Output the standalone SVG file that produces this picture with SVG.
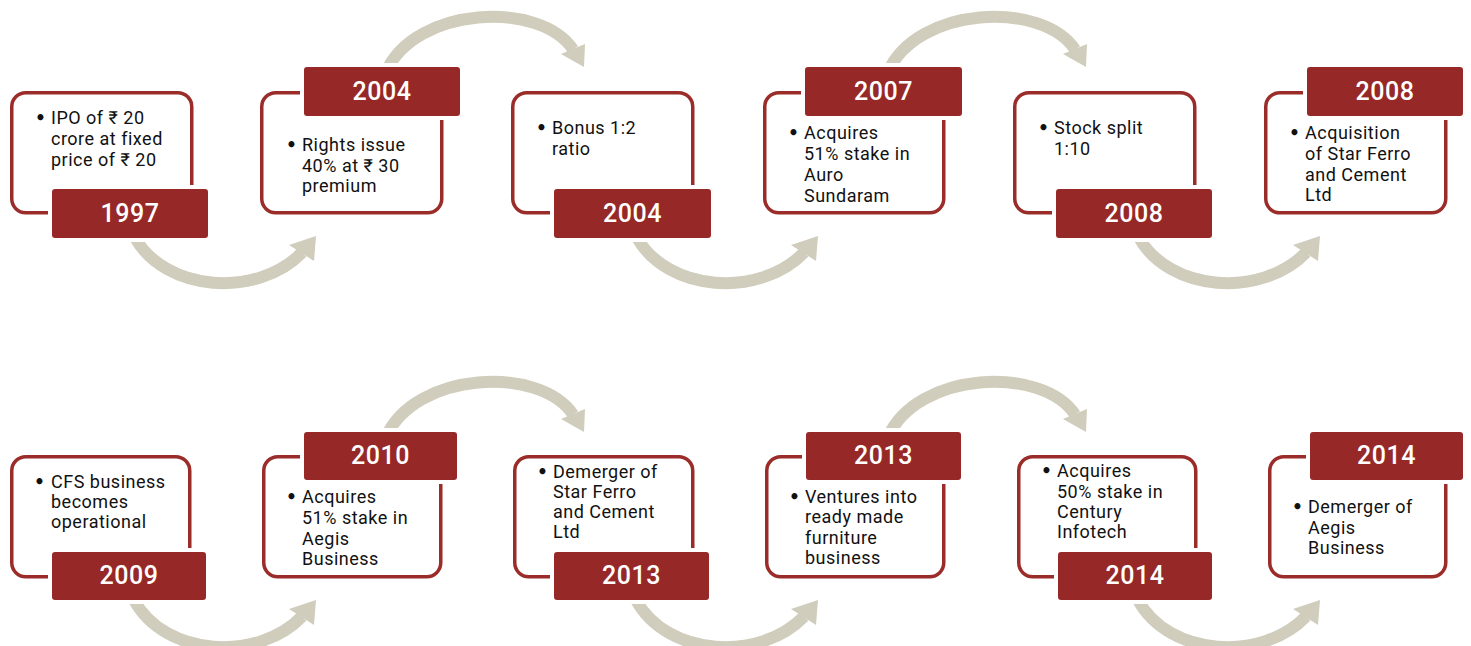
<svg xmlns="http://www.w3.org/2000/svg" xmlns:xlink="http://www.w3.org/1999/xlink" width="1471" height="646" viewBox="0 0 1471 646">
<style>
.box{fill:#ffffff;stroke:#9a2c29;stroke-width:3.5}
.lbl{fill:#962927;stroke:#ffffff;stroke-width:8;paint-order:stroke}
.yr{fill:#ffffff;font-family:Roboto,"Liberation Sans",sans-serif;font-weight:500;font-size:25px;text-anchor:middle;letter-spacing:0.5px}
.tx{fill:#111111;font-family:Roboto,"Liberation Sans","DejaVu Sans",sans-serif;font-size:18px;letter-spacing:0.5px}
.bu{fill:#111111;font-family:"DejaVu Sans",sans-serif;font-size:17px;font-weight:bold}
.arc{fill:none;stroke:#d0cdbc;stroke-width:12}
.hd{fill:#d0cdbc}
</style>
<defs>
<g id="arrowDown">
<path class="arc" d="M 134 236 C 165 293, 258 298, 302 252.5"/>
<polygon class="hd" points="289,245 316,236 314,261"/>
</g>
<g id="arrowUp">
<path class="arc" d="M 386 72 C 415 6, 540 0, 573 49.5"/>
<polygon class="hd" points="561,54 585,44 584,67"/>
</g>
</defs>
<rect width="1471" height="646" fill="#ffffff"/>
<g id="connectors">
<use xlink:href="#arrowDown"/>
<use xlink:href="#arrowDown" transform="translate(502,0)"/>
<use xlink:href="#arrowDown" transform="translate(1004,0)"/>
<use xlink:href="#arrowUp"/>
<use xlink:href="#arrowUp" transform="translate(502,0)"/>
<use xlink:href="#arrowDown" transform="translate(0,364)"/>
<use xlink:href="#arrowDown" transform="translate(502,364)"/>
<use xlink:href="#arrowDown" transform="translate(1004,364)"/>
<use xlink:href="#arrowUp" transform="translate(0,365)"/>
<use xlink:href="#arrowUp" transform="translate(502,365)"/>
</g>
<g id="n1997">
<rect class="box" x="11.75" y="92.75" width="180" height="120" rx="14"/>
<text class="bu" x="35" y="124">•</text>
<text class="tx"><tspan x="51" y="124">IPO of ₹ 20</tspan><tspan x="51" y="145">crore at fixed</tspan><tspan x="51" y="166">price of ₹ 20</tspan></text>
<rect class="lbl" x="52" y="189" width="156" height="49" rx="3"/>
<text class="yr" x="130" y="222">1997</text>
</g>
<g id="n2004a">
<rect class="box" x="261.75" y="92.75" width="180" height="120" rx="14"/>
<text class="bu" x="286" y="151">•</text>
<text class="tx"><tspan x="302" y="151">Rights issue</tspan><tspan x="302" y="172">40% at ₹ 30</tspan><tspan x="302" y="192">premium</tspan></text>
<rect class="lbl" x="304" y="67" width="156" height="49" rx="3"/>
<text class="yr" x="382" y="100">2004</text>
</g>
<g id="n2004b">
<rect class="box" x="512.75" y="92.75" width="180" height="120" rx="14"/>
<text class="bu" x="536" y="134">•</text>
<text class="tx"><tspan x="552" y="134">Bonus 1:2</tspan><tspan x="552" y="155">ratio</tspan></text>
<rect class="lbl" x="554" y="189" width="157" height="49" rx="3"/>
<text class="yr" x="632.5" y="222">2004</text>
</g>
<g id="n2007">
<rect class="box" x="764.75" y="92.75" width="179" height="120" rx="14"/>
<text class="bu" x="788" y="139">•</text>
<text class="tx"><tspan x="804" y="139">Acquires</tspan><tspan x="804" y="160">51% stake in</tspan><tspan x="804" y="181">Auro</tspan><tspan x="804" y="202">Sundaram</tspan></text>
<rect class="lbl" x="805" y="67" width="157" height="49" rx="3"/>
<text class="yr" x="883.5" y="100">2007</text>
</g>
<g id="n2008a">
<rect class="box" x="1014.75" y="92.75" width="180" height="120" rx="14"/>
<text class="bu" x="1038" y="134">•</text>
<text class="tx"><tspan x="1054" y="134">Stock split</tspan><tspan x="1054" y="155">1:10</tspan></text>
<rect class="lbl" x="1056" y="189" width="156" height="49" rx="3"/>
<text class="yr" x="1134" y="222">2008</text>
</g>
<g id="n2008b">
<rect class="box" x="1265.75" y="92.75" width="180" height="120" rx="14"/>
<text class="bu" x="1289" y="139">•</text>
<text class="tx"><tspan x="1305" y="139">Acquisition</tspan><tspan x="1305" y="160">of Star Ferro</tspan><tspan x="1305" y="181">and Cement</tspan><tspan x="1305" y="201">Ltd</tspan></text>
<rect class="lbl" x="1307" y="67" width="156" height="49" rx="3"/>
<text class="yr" x="1385" y="100">2008</text>
</g>
<g id="n2009">
<rect class="box" x="11.75" y="456.75" width="178" height="120" rx="14"/>
<text class="bu" x="34" y="488">•</text>
<text class="tx"><tspan x="51" y="488">CFS business</tspan><tspan x="51" y="508">becomes</tspan><tspan x="51" y="528">operational</tspan></text>
<rect class="lbl" x="52" y="552" width="154" height="48" rx="3"/>
<text class="yr" x="129" y="584">2009</text>
</g>
<g id="n2010">
<rect class="box" x="263.75" y="456.75" width="177" height="120" rx="14"/>
<text class="bu" x="286" y="503">•</text>
<text class="tx"><tspan x="302" y="503">Acquires</tspan><tspan x="302" y="524">51% stake in</tspan><tspan x="302" y="545">Aegis</tspan><tspan x="302" y="565">Business</tspan></text>
<rect class="lbl" x="304" y="432" width="153" height="48" rx="3"/>
<text class="yr" x="380.5" y="464">2010</text>
</g>
<g id="n2013a">
<rect class="box" x="514.75" y="456.75" width="178" height="120" rx="14"/>
<text class="bu" x="537" y="478">•</text>
<text class="tx"><tspan x="553" y="478">Demerger of</tspan><tspan x="553" y="498">Star Ferro</tspan><tspan x="553" y="518">and Cement</tspan><tspan x="553" y="538">Ltd</tspan></text>
<rect class="lbl" x="554" y="552" width="155" height="48" rx="3"/>
<text class="yr" x="631.5" y="584">2013</text>
</g>
<g id="n2013b">
<rect class="box" x="766.75" y="456.75" width="177" height="120" rx="14"/>
<text class="bu" x="789" y="503">•</text>
<text class="tx"><tspan x="805" y="503">Ventures into</tspan><tspan x="805" y="523">ready made</tspan><tspan x="805" y="544">furniture</tspan><tspan x="805" y="564">business</tspan></text>
<rect class="lbl" x="806" y="432" width="155" height="48" rx="3"/>
<text class="yr" x="883.5" y="464">2013</text>
</g>
<g id="n2014a">
<rect class="box" x="1018.75" y="456.75" width="177" height="120" rx="14"/>
<text class="bu" x="1041" y="477">•</text>
<text class="tx"><tspan x="1057" y="477">Acquires</tspan><tspan x="1057" y="498">50% stake in</tspan><tspan x="1057" y="518">Century</tspan><tspan x="1057" y="538">Infotech</tspan></text>
<rect class="lbl" x="1058" y="552" width="154" height="48" rx="3"/>
<text class="yr" x="1135" y="584">2014</text>
</g>
<g id="n2014b">
<rect class="box" x="1269.75" y="456.75" width="176" height="120" rx="14"/>
<text class="bu" x="1292" y="513">•</text>
<text class="tx"><tspan x="1308" y="513">Demerger of</tspan><tspan x="1308" y="534">Aegis</tspan><tspan x="1308" y="554">Business</tspan></text>
<rect class="lbl" x="1310" y="432" width="153" height="48" rx="3"/>
<text class="yr" x="1386.5" y="464">2014</text>
</g>
</svg>
